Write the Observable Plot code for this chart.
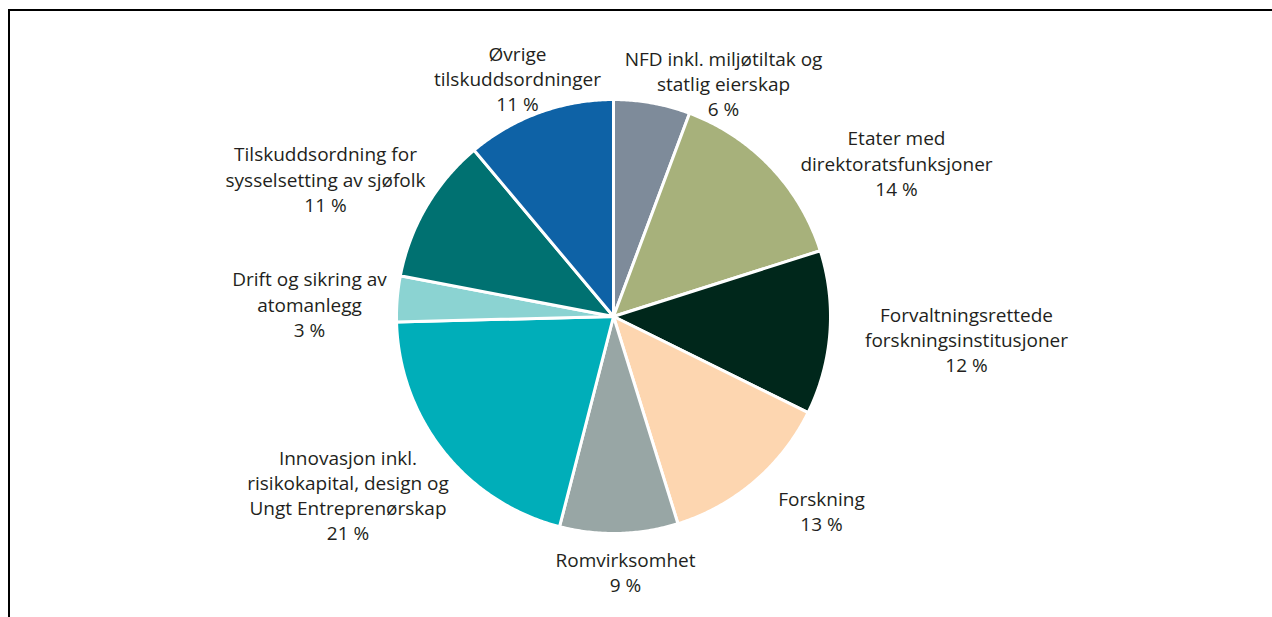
<!DOCTYPE html>
<html>
<head>
<meta charset="utf-8">
<script src="https://cdn.jsdelivr.net/npm/d3@7"></script>
<script src="https://cdn.jsdelivr.net/npm/@observablehq/plot@0.6"></script>
<style>
  html, body { margin: 0; padding: 0; background: #fff; }
  #wrap { position: relative; width: 1272px; height: 617px; overflow: hidden; }
  #chart { position: absolute; left: 0; top: 0; }
  #frame { position: absolute; left: 8px; top: 9px; width: 3000px; height: 3000px;
           border-top: 2px solid #000; border-left: 2.5px solid #000; pointer-events: none; }
</style>
</head>
<body>
<div id="wrap">
  <div id="chart"></div>
  <div id="frame"></div>
</div>
<script>
// ---- data (clockwise from 12 o'clock) ----
const categories = [
  "NFD inkl. miljøtiltak og\nstatlig eierskap",
  "Etater med\ndirektoratsfunksjoner",
  "Forvaltningsrettede\nforskningsinstitusjoner",
  "Forskning",
  "Romvirksomhet",
  "Innovasjon inkl.\nrisikokapital, design og\nUngt Entreprenørskap",
  "Drift og sikring av\natomanlegg",
  "Tilskuddsordning for\nsysselsetting av sjøfolk",
  "Øvrige\ntilskuddsordninger"
];
const values = [5.7, 14.4, 12.2, 12.9, 8.8, 20.6, 3.4, 10.9, 11.1];
const colors = ["#7e8b9a", "#a7b17b", "#00271b", "#fdd6b0", "#98a6a5",
                "#00aeb9", "#8bd3d2", "#007171", "#0e62a6"];

// ---- label layout (pixel offsets of label block centre from pie centre) ----
const labelDx = [110, 283, 353, 208, 12, -265.5, -304, -288, -96];
const labelDy = [-233.5, -154, 22.5, 194.3, 255, 177.7, -13, -138, -238.5];

// ---- geometry ----
const W = 1272, H = 617;
const CX = 613, CY = 316, R = 217;   // pie centre and radius in px
const total = d3.sum(values);
const pie = d3.pie().sort(null).value(d => d)(values);

const slicePts = [];
pie.forEach((p, i) => {
  const cat = categories[i];
  slicePts.push({cat, x: 0, y: 0});
  const n = Math.max(2, Math.ceil((p.endAngle - p.startAngle) / (Math.PI / 360)));
  for (let k = 0; k <= n; k++) {
    const a = p.startAngle + (p.endAngle - p.startAngle) * k / n;
    slicePts.push({cat, x: Math.sin(a), y: Math.cos(a)});
  }
  slicePts.push({cat, x: 0, y: 0});
});

const labels = categories.map((c, i) => ({
  cat: c,
  text: c + "\n" + Math.round(values[i] / total * 100) + " %",
  x: labelDx[i] / R,
  y: -labelDy[i] / R
}));

const chart = Plot.plot({
  width: W,
  height: H,
  marginLeft: CX - R,
  marginRight: W - (CX + R),
  marginTop: CY - R,
  marginBottom: H - (CY + R),
  style: {background: "transparent"},
  x: {domain: [-1, 1], axis: null},
  y: {domain: [-1, 1], axis: null},
  color: {domain: categories, range: colors},
  marks: [
    Plot.line(slicePts, {
      x: "x", y: "y", z: "cat", fill: "cat",
      stroke: "white", strokeWidth: 3, strokeLinejoin: "round", curve: "linear"
    }),
    Plot.text(labels, {
      x: "x", y: "y", text: "text",
      lineAnchor: "middle", textAnchor: "middle", lineHeight: 1.32,
      fontSize: 19, fill: "#231f20", fontFamily: "Open Sans"
    })
  ]
});
document.getElementById("chart").appendChild(chart);
</script>
</body>
</html>
